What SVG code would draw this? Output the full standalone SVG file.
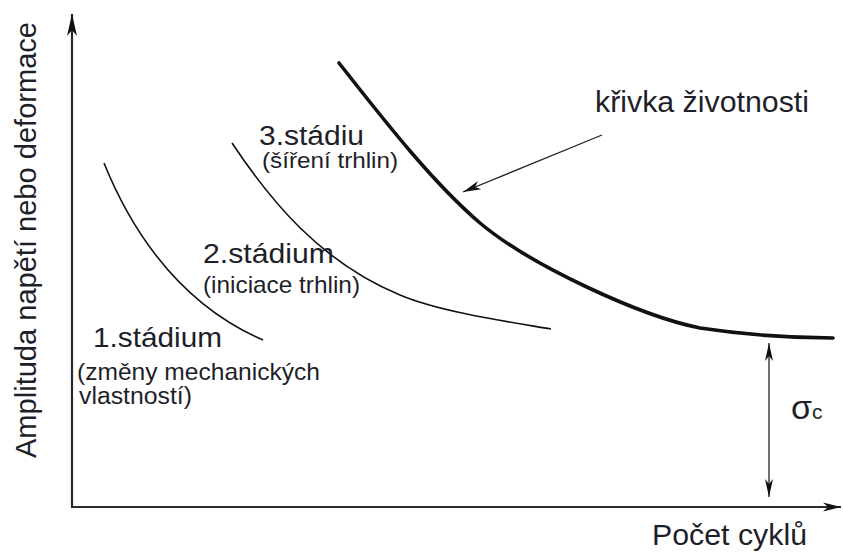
<svg xmlns="http://www.w3.org/2000/svg" width="843" height="554" viewBox="0 0 843 554">
<defs>
<style>
.t{font-family:"Liberation Sans",Arial,sans-serif;fill:#1f1f2a;}
.ax{stroke:#2a2a2a;stroke-width:2.2;fill:none;}
.thin{stroke:#111;stroke-width:1.6;fill:none;}
.thick{stroke:#111;stroke-width:3.6;fill:none;stroke-linecap:round;}
.ln{stroke:#222;stroke-width:1.3;fill:none;}
</style>
<marker id="ah" markerUnits="userSpaceOnUse" viewBox="-22 -6 24 12" refX="0" refY="0" markerWidth="24" markerHeight="12" orient="auto">
<path d="M0,0 L-22,-5 L-16,0 L-22,5 Z" fill="#111"/>
</marker>
<marker id="ahs" markerUnits="userSpaceOnUse" viewBox="-20 -6 22 12" refX="0" refY="0" markerWidth="22" markerHeight="12" orient="auto">
<path d="M0,0 L-18,-4.5 L-13,0 L-18,4.5 Z" fill="#111"/>
</marker>
<marker id="ahss" markerUnits="userSpaceOnUse" viewBox="-20 -6 22 12" refX="0" refY="0" markerWidth="22" markerHeight="12" orient="auto-start-reverse">
<path d="M0,0 L-18,-4 L-13,0 L-18,4 Z" fill="#111"/>
</marker>
</defs>
<g id="axes">
<path class="ax" d="M72,507 L72,14" marker-end="url(#ah)"/>
<path class="ax" d="M71,507 L841,507" marker-end="url(#ahs)"/>
</g>
<g id="curves">
<path id="curve1" class="thin" d="M104,163 C125,215 170,300 263,340"/>
<path id="curve2" class="thin" d="M232,143 C270,200 320,262 400,295 C440,312 510,322 551,329"/>
<path id="curve3" class="thick" d="M339,63 C380,115 430,180 480,223 C530,265 640,316 700,328 C760,337 800,338 833,338"/>
</g>
<g id="connectors">
<path class="ln" d="M602,135 L463,192" marker-end="url(#ahs)"/>
<path class="ln" d="M769,343 L769,497" marker-start="url(#ahss)" marker-end="url(#ahss)"/>
</g>
<g id="labels">
<text class="t" font-size="29" transform="translate(36,240) rotate(-90)" text-anchor="middle" textLength="436" lengthAdjust="spacingAndGlyphs">Amplituda napětí nebo deformace</text>
<text class="t" font-size="29" x="652" y="545" textLength="155" lengthAdjust="spacingAndGlyphs">Počet cyklů</text>
<text class="t" font-size="29" x="595" y="112" textLength="214" lengthAdjust="spacingAndGlyphs">křivka životnosti</text>
<text class="t" font-size="27" x="259" y="145" textLength="105" lengthAdjust="spacingAndGlyphs">3.stádiu</text>
<text class="t" font-size="22" x="262" y="168" textLength="136" lengthAdjust="spacingAndGlyphs">(šíření trhlin)</text>
<text class="t" font-size="28" x="203" y="263" textLength="131" lengthAdjust="spacingAndGlyphs">2.stádium</text>
<text class="t" font-size="24" x="203" y="293" textLength="157" lengthAdjust="spacingAndGlyphs">(iniciace trhlin)</text>
<text class="t" font-size="28" x="93" y="347" textLength="129" lengthAdjust="spacingAndGlyphs">1.stádium</text>
<text class="t" font-size="24" x="77" y="380" textLength="243" lengthAdjust="spacingAndGlyphs">(změny mechanických</text>
<text class="t" font-size="23" x="79" y="404" textLength="113" lengthAdjust="spacingAndGlyphs">vlastností)</text>
<text class="t" x="791" y="419"><tspan font-size="34">σ</tspan><tspan font-size="21">c</tspan></text>
</g>
</svg>
